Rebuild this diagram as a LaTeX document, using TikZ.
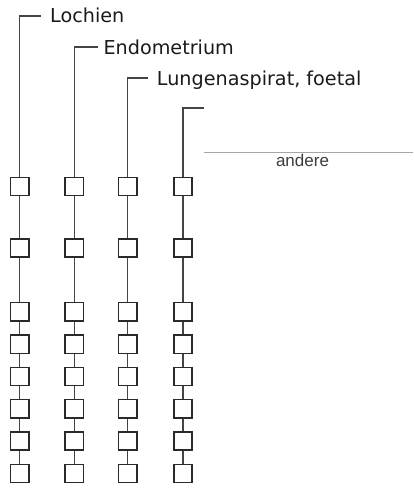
\documentclass[tikz,border=0pt]{standalone}
\usepackage{fontspec}
\setmainfont{DejaVu Sans}
\newfontfamily\andfont{Liberation Sans}
\definecolor{linec}{HTML}{454545}
\definecolor{boxc}{HTML}{2A2A2A}
\definecolor{textc}{HTML}{1A1A1A}
\begin{document}
\begin{tikzpicture}[x=1pt,y=-1pt,
  cell/.style={draw=boxc, line width=1.4pt, minimum size=18.2pt, inner sep=0pt, fill=white},
  conn/.style={draw=linec, line width=1.35pt},
  lab/.style={anchor=base west, inner sep=0pt, font=\fontsize{19.2}{22}\selectfont, text=textc},
  dotline/.style={draw=gray!70, line width=0.5pt, dash pattern=on 0.5pt off 0.5pt},
  note/.style={anchor=base, inner sep=0pt, font=\andfont\fontsize{17}{20}\selectfont, text=textc!85}]
\useasboundingbox (0,0) rectangle (413,489);
\foreach \c/\x/\t/\e in {1/19.7/16/41, 2/74.2/47/97.5, 3/127.8/78/148.3, 4/183/108/204}{
  \coordinate (h\c) at (\e,\t);
  \coordinate (t\c) at (\x,\t);
  \foreach \r/\y in {1/186.5, 2/248, 3/311.8, 4/344.1, 5/376.4, 6/408.7, 7/441, 8/473.3}{
    \node[cell] (b\c\r) at (\x,\y) {};
  }
  \draw[conn] (h\c) -- (t\c) -- (b\c1);
  \foreach \r/\n in {1/2, 2/3, 3/4, 4/5, 5/6, 6/7, 7/8}{
    \draw[conn] (b\c\r) -- (b\c\n);
  }
}
\node[lab] (l1) at (50,22.3) {Lochien};
\node[lab] (l2) at (103.3,55) {Endometrium};
\node[lab] (l3) at (156.7,86) {Lungenaspirat, foetal};
\coordinate (d1) at (204,152.3);
\coordinate (d2) at (413,152.3);
\draw[dotline] (d1) -- (d2);
\node[note] (n1) at (302.5,167) {andere};
\end{tikzpicture}
\end{document}
